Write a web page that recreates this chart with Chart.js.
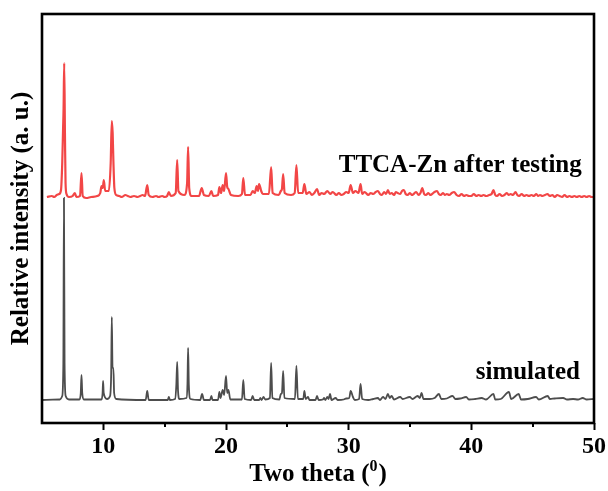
<!DOCTYPE html>
<html>
<head>
<meta charset="utf-8">
<script src="https://cdn.jsdelivr.net/npm/chart.js@4.4.1/dist/chart.umd.min.js"></script>
<style>
  html, body { margin: 0; padding: 0; background: #fff; }
</style>
</head>
<body>
<canvas id="xrd" width="608" height="491"></canvas>
<script>
// two theta (deg) / relative intensity (a.u.)
const simTheta = [5.0, 6.45, 6.65, 6.74, 6.79, 6.84, 6.93, 7.2, 8.05, 8.16, 8.22, 8.28, 8.4, 9.85, 9.94, 9.98, 10.03, 10.3, 10.55, 10.64, 10.69, 10.75, 10.82, 10.88, 11.05,
  13.45, 13.58, 13.7, 15.25, 15.34, 15.43, 15.85, 15.95, 16.02, 16.09, 16.2, 16.78, 16.86, 16.91, 16.97, 17.1, 17.9, 18.05, 18.2, 18.7, 18.81, 18.9,
  19.35, 19.46, 19.55, 19.73, 19.85, 20.0, 20.1, 20.2, 20.35, 21.3, 21.41, 21.52, 22.05, 22.17, 22.3, 22.7, 22.8, 22.9, 23.06, 23.2, 23.58, 23.68, 23.78,
  24.35, 24.47, 24.56, 24.66, 24.76, 25.62, 25.74, 25.86, 26.3, 26.39, 26.5, 26.69, 26.8, 27.3, 27.42, 27.55, 27.9, 28.0, 28.1, 28.26, 28.36, 28.48, 28.6,
  28.94, 29.1, 29.6, 29.8, 30.05, 30.16, 30.35, 30.5, 30.85, 30.97, 31.1, 31.6, 32.0, 32.38, 32.55, 32.8, 33.0, 33.2, 33.35, 33.5, 33.7, 34.2, 34.4,
  34.98, 35.2, 35.62, 35.8, 35.94, 36.1, 36.6, 37.0, 37.36, 37.55, 38.0, 38.47, 38.7, 39.1, 39.58, 39.8, 40.3, 40.84, 41.2, 41.8, 41.95, 42.4, 43.06,
  43.25, 43.86, 44.05, 44.6, 45.28, 45.5, 46.23, 46.4, 46.8, 47.49, 47.8, 48.3, 48.7, 49.08, 49.4, 50.0];
const simIntensity = [23, 23.5, 27, 60, 225, 60, 27, 23.5, 23.5, 30, 48, 30, 23.5, 23.5, 30, 42, 30, 24, 27, 50, 106, 55, 55, 30, 24,
  23, 32, 23, 23, 26, 23, 24, 38, 61, 32, 24, 25, 40, 75, 38, 24, 23, 29, 23, 23, 27, 23,
  23, 31, 25, 33, 28, 47, 30, 33, 23.5, 23.5, 43, 24, 23, 27, 23, 23, 25, 23, 26, 23.5, 25, 60, 25,
  23.5, 29, 30, 52, 25, 24, 57, 24, 24, 32, 24, 26, 23, 23, 27, 23, 23.5, 25, 23, 26, 24, 29, 23,
  25, 23, 23.5, 24.5, 25, 32, 26, 23, 24, 39, 24, 23, 24, 25, 23, 26, 24, 29, 25, 27, 23.5, 26, 24,
  26, 24, 27, 25, 30, 24, 24, 25, 29, 24, 24.5, 27, 24, 24.5, 26, 23.5, 24, 25, 23.5, 29, 23.5, 24, 31,
  24, 29, 23.5, 24, 26, 23.5, 27, 24, 24.5, 25, 23.5, 24, 23.5, 25, 23.5, 24];

const testTheta = [5.4, 5.8, 6.0, 6.2, 6.4, 6.55, 6.65, 6.72, 6.76, 6.81, 6.87, 6.92, 7.0, 7.2, 7.5, 7.68, 7.8, 8.1, 8.22, 8.32, 8.6, 9.0, 9.5, 9.75, 9.85, 9.95,
  10.04, 10.15, 10.45, 10.6, 10.69, 10.76, 10.82, 10.9, 11.05, 11.3, 11.5, 11.8, 12.0, 12.2, 12.5, 12.8, 13.0, 13.2, 13.4, 13.58, 13.7, 14.0, 14.3, 14.5,
  14.8, 15.0, 15.2, 15.34, 15.5, 15.9, 16.02, 16.12, 16.6, 16.83,
  16.91, 17.0, 17.2, 17.8, 18.02, 18.2, 18.6, 18.81, 18.95, 19.35, 19.46, 19.6, 19.73, 19.85, 20.0, 20.1, 20.2, 20.4, 21.0, 21.3, 21.41, 21.55, 22.0,
  22.17, 22.35, 22.5, 22.6, 22.7, 22.87, 23.0, 23.5, 23.68, 23.8, 24.3, 24.47, 24.56, 24.66, 24.78, 25.3, 25.6, 25.74, 25.88, 26.25, 26.39, 26.55,
  26.8, 27.0, 27.2, 27.42, 27.6, 27.8, 28.0, 28.26, 28.5, 28.7, 29.0, 29.2, 29.4, 29.6, 29.8, 30.0, 30.16, 30.35, 30.55, 30.8, 30.97, 31.1, 31.3, 31.6,
  31.8, 32.0, 32.2, 32.38, 32.55, 32.7, 32.9, 33.05, 33.2, 33.35, 33.5, 33.7, 33.85, 34.0, 34.2, 34.35, 34.5, 34.65, 34.8, 35.0, 35.15, 35.3, 35.5,
  35.7, 35.85, 36.0, 36.15, 36.3, 36.5, 36.65, 36.8, 37.0, 37.2, 37.35, 37.5, 37.7, 37.85, 38.0, 38.2, 38.4, 38.6, 38.8, 39.0, 39.2, 39.4, 39.6, 39.8,
  40.0, 40.2, 40.4, 40.6, 40.8, 41.0, 41.2, 41.45, 41.65, 41.8, 41.95, 42.1, 42.3, 42.5, 42.7, 42.9, 43.05, 43.2, 43.4, 43.6, 43.75, 43.9, 44.1, 44.3,
  44.5, 44.7, 44.9, 45.1, 45.3, 45.45, 45.6, 45.8, 46.0, 46.2, 46.4, 46.6, 46.8, 47.0, 47.2, 47.4, 47.6, 47.8, 48.0, 48.2, 48.4, 48.6, 48.8, 49.0,
  49.2, 49.4, 49.6, 49.8, 50.0];
const testIntensity = [226, 227, 226, 228, 229, 233, 260, 295, 315, 360, 290, 240, 229, 226, 227, 230, 226, 227, 250, 227, 225, 226, 227, 230, 237, 235,
  243, 232, 232, 260, 302, 290, 262, 235, 228, 227, 226, 228, 227, 226, 227, 226, 227, 228, 227, 238, 228, 226, 227, 226,
  227, 226, 227, 231, 227, 230, 263, 232, 228, 240,
  276, 235, 227, 227, 235, 228, 227, 232, 227, 228, 236, 230, 238, 232, 250, 236, 234, 228, 227, 229, 245, 228, 228,
  232, 230, 237, 232, 239, 232, 229, 229, 256, 230, 228, 232, 234, 249, 230, 228, 230, 258, 230, 230, 239, 229,
  231, 228, 230, 234, 228, 230, 229, 232, 229, 231, 228, 230, 228, 229, 231, 230, 238, 230, 232, 230, 239, 229, 231, 228,
  230, 229, 231, 232, 229, 228, 231, 229, 233, 229, 230, 228, 231, 230, 229, 232, 233, 229, 228, 230, 228, 229, 231,
  228, 230, 235, 229, 228, 230, 228, 229, 231, 232, 229, 228, 230, 228, 229, 228, 230, 231, 228, 227, 229, 227, 228, 227,
  227, 229, 227, 228, 227, 228, 227, 228, 229, 233, 228, 227, 229, 227, 228, 230, 228, 229, 228, 231, 228, 227, 229, 227,
  228, 227, 228, 227, 229, 227, 228, 227, 228, 229, 227, 228, 226, 228, 227, 226, 228, 226, 227, 226, 227, 226, 227, 226,
  227, 226, 227, 226, 226];

const xMajor = [10, 20, 30, 40, 50];
const xMinor = [15, 25, 35, 45];
const seriesNames = ['TTCA-Zn after testing', 'simulated'];

const serif = '"Liberation Serif", "Times New Roman", serif';

const toPoints = (xs, ys) => xs.map((x, i) => ({ x: x, y: ys[i] }));

// frame, minor ticks, x title and the in-plot labels
const decor = {
  id: 'decor',
  afterDraw(chart) {
    const { ctx, chartArea: a, scales: { x, y } } = chart;
    ctx.save();
    ctx.strokeStyle = '#000';
    ctx.lineWidth = 2.6;
    ctx.strokeRect(a.left, a.top, a.right - a.left, a.bottom - a.top);

    ctx.lineWidth = 2;
    xMinor.forEach(v => {
      const px = Math.round(x.getPixelForValue(v));
      ctx.beginPath();
      ctx.moveTo(px, a.bottom);
      ctx.lineTo(px, a.bottom + 4);
      ctx.stroke();
    });

    ctx.fillStyle = '#000';
    ctx.textBaseline = 'alphabetic';
    // x title with superscript
    const big = 'bold 25px ' + serif, small = 'bold 16px ' + serif;
    ctx.font = big;
    const w1 = ctx.measureText('Two theta (').width;
    const w3 = ctx.measureText(')').width;
    ctx.font = small;
    const w2 = ctx.measureText('0').width + 1;
    let sx = (a.left + a.right) / 2 - (w1 + w2 + w3) / 2;
    const by = 481;
    ctx.textAlign = 'left';
    ctx.font = big;
    ctx.fillText('Two theta (', sx, by);
    ctx.font = small;
    ctx.fillText('0', sx + w1, by - 10);
    ctx.font = big;
    ctx.fillText(')', sx + w1 + w2, by);

    ctx.textAlign = 'right';
    ctx.font = 'bold 25px ' + serif;
    ctx.fillText(seriesNames[0], x.getPixelForValue(49.0), y.getPixelForValue(251));
    ctx.fillText(seriesNames[1], x.getPixelForValue(48.85), y.getPixelForValue(44));
    ctx.restore();
  }
};

new Chart(document.getElementById('xrd'), {
  type: 'line',
  data: {
    datasets: [{
      label: seriesNames[0],
      data: toPoints(testTheta, testIntensity),
      borderColor: '#f24646',
      borderWidth: 2.2,
      pointRadius: 0,
      cubicInterpolationMode: 'monotone'
    }, {
      label: seriesNames[1],
      data: toPoints(simTheta, simIntensity),
      borderColor: '#4d4d4d',
      borderWidth: 1.8,
      pointRadius: 0,
      cubicInterpolationMode: 'monotone'
    }]
  },
  options: {
    responsive: false,
    animation: false,
    devicePixelRatio: 1,
    layout: { padding: { top: 14, right: 14, left: 0, bottom: 0 } },
    plugins: { legend: { display: false }, tooltip: { enabled: false } },
    scales: {
      x: {
        type: 'linear',
        min: 5,
        max: 50,
        afterFit: s => { s.height = 68; },
        border: { display: false },
        grid: {
          display: true,
          drawOnChartArea: false,
          drawTicks: true,
          tickLength: 7,
          tickWidth: 2,
          tickColor: c => (c.tick && xMajor.includes(c.tick.value)) ? '#000' : 'rgba(0,0,0,0)'
        },
        ticks: {
          stepSize: 5,
          autoSkip: false,
          maxRotation: 0,
          padding: 2,
          color: '#000',
          font: { family: serif, size: 24, weight: 'bold' },
          callback: v => xMajor.includes(v) ? String(v) : ''
        }
      },
      y: {
        min: 0,
        max: 409,
        afterFit: s => { s.width = 42; },
        border: { display: false },
        grid: { display: false },
        ticks: { display: false },
        title: {
          display: true,
          text: 'Relative intensity (a. u.)',
          color: '#000',
          font: { family: serif, size: 25, weight: 'bold' },
          padding: { top: 7, bottom: 0 }
        }
      }
    }
  },
  plugins: [decor]
});
</script>
</body>
</html>
